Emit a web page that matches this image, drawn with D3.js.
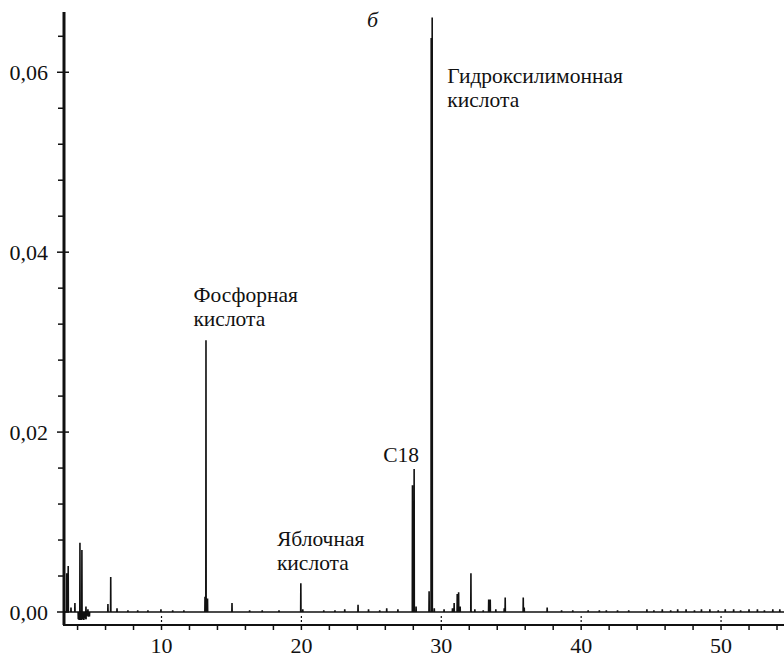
<!DOCTYPE html>
<html><head><meta charset="utf-8">
<script src="https://cdn.jsdelivr.net/npm/d3@7"></script>
</head>
<body style="margin:0">
<svg id="c" width="784" height="660"></svg>
<script>
// Retention time (min) and absorbance of every spike of the chromatogram
const peakTimes = [3.22,3.33,3.53,3.81,4.17,4.31,4.60,4.74,6.17,6.37,6.82,7.6,8.3,9.03,9.96,10.8,11.6,
  13.11,13.18,13.29,15.04,16.3,17.2,18.4,19.96,20.10,21.6,22.4,23.1,24.05,24.8,25.6,26.1,26.9,
  27.94,28.06,28.20,29.13,29.28,29.35,29.5,30.2,30.8,30.92,31.14,31.24,31.35,32.12,32.4,33.0,33.39,33.5,33.9,
  34.5,34.57,35.86,35.93,37.57,38.6,39.4,40.5,41.3,41.8,42.6,43.4,44.7,45.2,45.8,46.4,46.9,47.5,48.1,48.6,
  49.2,49.8,50.3,50.9,51.4,52.0,52.6,53.1,53.7,54.2];
const peakHeights = [0.0043,0.0051,0.0005,0.0010,0.0077,0.0069,0.0006,0.0003,0.0009,0.0039,0.0004,0.0002,0.0002,0.0002,0.0003,0.0002,0.0002,
  0.0017,0.0302,0.0015,0.0010,0.0002,0.0002,0.0002,0.0032,0.0003,0.0002,0.0002,0.0003,0.0008,0.0003,0.0002,0.0004,0.0003,
  0.0141,0.0159,0.0006,0.0023,0.0638,0.0661,0.0004,0.0003,0.0004,0.0010,0.0020,0.0022,0.0006,0.0043,0.0003,0.0002,0.0014,0.0014,0.0003,
  0.0004,0.0016,0.0016,0.0005,0.0005,0.0002,0.0002,0.0002,0.0002,0.0002,0.0002,0.0002,0.0003,0.0002,0.0003,0.0002,0.0003,0.0003,0.0002,0.0003,
  0.0003,0.0002,0.0003,0.0003,0.0002,0.0003,0.0003,0.0002,0.0003,0.0003];
// negative excursion just after the solvent front
const dipTimes = [4.05,4.12,4.20,4.28,4.36,4.44,4.52,4.60,4.68,4.76,4.85];
const dipValues = [-0.0008,-0.0009,-0.0009,-0.0009,-0.0008,-0.0009,-0.0007,-0.0008,-0.0004,-0.0005,-0.0005];

const yMajor = [0,0.02,0.04,0.06];
const yMinor = [0.004,0.008,0.012,0.016,0.024,0.028,0.032,0.036,0.044,0.048,0.052,0.056,0.064];
const xMajor = [10,20,30,40,50];
const xMinor = [4,6,8,12,14,16,18,22,24,26,28,32,34,36,38,42,44,46,48,52,54];

const labels = [
  {lines:["Гидроксилимонная","кислота"], t:30.43, v:0.0588},
  {lines:["Фосфорная","кислота"], t:12.28, v:0.0345},
  {lines:["Яблочная","кислота"], t:18.25, v:0.0073},
  {lines:["C18"], t:25.85, v:0.0167}
];

const FONT = '"Liberation Serif"';
const svg = d3.select("#c");
const x = d3.scaleLinear().domain([3.03,54.5]).range([64,784]);
const y = d3.scaleLinear().domain([0,0.0667]).range([612,12]);
const axisY = 625;
const fmt = v => d3.format(".2f")(v).replace(".",",");

// trace
const pts = [[x.domain()[0],0]];
const all = peakTimes.map((t,i)=>[t,peakHeights[i]]).concat(dipTimes.map((t,i)=>[t,dipValues[i]]))
  .sort((a,b)=>a[0]-b[0]);
const d = 0.012;
all.forEach(([t,h])=>{pts.push([t-d,0],[t,h],[t+d,0]);});
pts.push([x.domain()[1],0]);
svg.append("path").datum(pts)
  .attr("d", d3.line().x(p=>x(p[0])).y(p=>y(p[1])))
  .attr("fill","none").attr("stroke","#111").attr("stroke-width",1.6).attr("stroke-linejoin","miter");
svg.append("path").datum(dipTimes.map((t,i)=>[t,dipValues[i]]))
  .attr("d", d3.area().x(p=>x(p[0])).y0(y(0)).y1(p=>y(p[1])).curve(d3.curveStep))
  .attr("fill","#111");

// y axis
const gy = svg.append("g");
gy.append("line").attr("x1",64).attr("x2",64).attr("y1",12).attr("y2",axisY)
  .attr("stroke","#111").attr("stroke-width",3);
gy.selectAll(".ymaj").data(yMajor).join("line")
  .attr("x1",57).attr("x2",69).attr("y1",v=>y(v)).attr("y2",v=>y(v))
  .attr("stroke","#111").attr("stroke-width",1.5);
gy.selectAll(".ymin").data(yMinor).join("line")
  .attr("x1",58).attr("x2",64).attr("y1",v=>y(v)).attr("y2",v=>y(v))
  .attr("stroke","#111").attr("stroke-width",1.5);
gy.selectAll("text").data(yMajor).join("text")
  .attr("x",48).attr("y",v=>y(v)+8).attr("text-anchor","end")
  .style("font-family",FONT,"important").attr("font-size",22).attr("fill","#111").text(fmt);

// x axis
const gx = svg.append("g");
gx.append("line").attr("x1",63).attr("x2",784).attr("y1",axisY).attr("y2",axisY)
  .attr("stroke","#111").attr("stroke-width",2);
gx.selectAll(".xt").data(xMajor.concat(xMinor)).join("line")
  .attr("x1",t=>x(t)).attr("x2",t=>x(t)).attr("y1",axisY).attr("y2",axisY+5)
  .attr("stroke","#111").attr("stroke-width",1.5);
gx.selectAll(".xd").data(xMajor).join("line")
  .attr("x1",t=>x(t)).attr("x2",t=>x(t)).attr("y1",y(0)+4).attr("y2",axisY-2)
  .attr("stroke","#111").attr("stroke-width",1.2).attr("stroke-dasharray","2,2");
gx.selectAll("text").data(xMajor).join("text")
  .attr("x",t=>x(t)).attr("y",653).attr("text-anchor","middle")
  .style("font-family",FONT,"important").attr("font-size",22).attr("fill","#111").text(d=>d);

// annotations
labels.forEach(l=>{
  l.lines.forEach((s,i)=>{
    svg.append("text").attr("x",x(l.t)).attr("y",y(l.v)+i*24)
      .style("font-family",FONT,"important").attr("font-size",21.5).attr("fill","#111").text(s);
  });
});
svg.append("text").attr("x",367).attr("y",27).style("font-family",FONT,"important").attr("font-size",22)
  .attr("font-style","italic").attr("fill","#111").text("б");
</script>
</body></html>
